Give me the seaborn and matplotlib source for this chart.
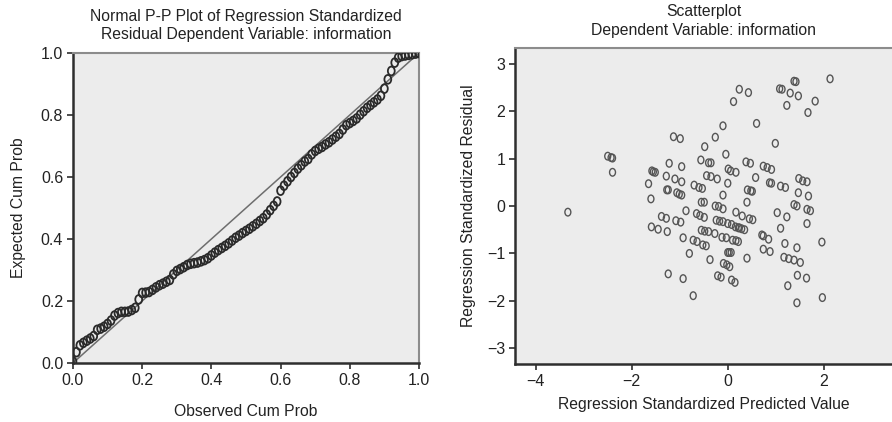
import pandas as pd
import seaborn as sns
import matplotlib.pyplot as plt
from matplotlib.path import Path
from matplotlib.transforms import Affine2D

sns.set_style("white")
plt.rcParams['font.family'] = ['Liberation Sans', 'DejaVu Sans']

# P-P plot: observed vs expected cumulative probability
obs_cum = [0.00, 0.01, 0.02, 0.03, 0.04, 0.05, 0.06, 0.07, 0.08, 0.09,
           0.10, 0.11, 0.12, 0.13, 0.14, 0.15, 0.16, 0.17, 0.18, 0.19,
           0.20, 0.21, 0.22, 0.23, 0.24, 0.25, 0.26, 0.27, 0.28, 0.29,
           0.30, 0.31, 0.32, 0.33, 0.34, 0.35, 0.36, 0.37, 0.38, 0.39,
           0.40, 0.41, 0.42, 0.43, 0.44, 0.45, 0.46, 0.47, 0.48, 0.49,
           0.50, 0.51, 0.52, 0.53, 0.54, 0.55, 0.56, 0.57, 0.58, 0.59,
           0.60, 0.61, 0.62, 0.63, 0.64, 0.65, 0.66, 0.67, 0.68, 0.69,
           0.70, 0.71, 0.72, 0.73, 0.74, 0.75, 0.76, 0.77, 0.78, 0.79,
           0.80, 0.81, 0.82, 0.83, 0.84, 0.85, 0.86, 0.87, 0.88, 0.89,
           0.90, 0.91, 0.92, 0.93, 0.94, 0.95, 0.96, 0.97, 0.98, 0.99, 1.00]
exp_cum = [0.005, 0.035, 0.057, 0.065, 0.072, 0.079, 0.087, 0.107, 0.111, 0.117,
           0.126, 0.137, 0.153, 0.161, 0.165, 0.165, 0.166, 0.171, 0.178, 0.205,
           0.226, 0.227, 0.229, 0.236, 0.244, 0.251, 0.256, 0.262, 0.268, 0.286,
           0.297, 0.303, 0.309, 0.316, 0.320, 0.322, 0.324, 0.328, 0.332, 0.338,
           0.347, 0.356, 0.364, 0.371, 0.378, 0.386, 0.395, 0.404, 0.411, 0.419,
           0.426, 0.433, 0.441, 0.449, 0.458, 0.467, 0.479, 0.493, 0.507, 0.521,
           0.556, 0.572, 0.586, 0.600, 0.613, 0.627, 0.638, 0.650, 0.658, 0.673,
           0.684, 0.691, 0.697, 0.705, 0.712, 0.721, 0.730, 0.739, 0.753, 0.767,
           0.774, 0.781, 0.789, 0.801, 0.812, 0.823, 0.832, 0.841, 0.850, 0.862,
           0.885, 0.915, 0.942, 0.969, 0.985, 0.990, 0.992, 0.994, 0.996, 0.998, 1.000]

# residual scatterplot
pred = [-3.33, -2.50, -2.43, -2.40, -2.40,
        -1.65, -1.60, -1.58, -1.55, -1.51, -1.59, -1.45,
        -1.38, -1.28, -1.28, -1.27, -1.24, -1.26, -1.24, -1.22,
        -1.13, -0.99, -1.10, -1.08, -0.98, -1.06, -1.01, -0.96,
        -0.96, -0.96, -0.93, -0.93, -0.87, -0.80, -0.72, -0.72, -0.64,
        -0.70, -0.60, -0.53, -0.65, -0.58, -0.49, -0.56, -0.55, -0.49,
        -0.55, -0.48, -0.40, -0.52, -0.45, -0.48, -0.44, -0.35, -0.22,
        -0.40, -0.35, -0.37, -0.27, -0.26, -0.26, -0.19, -0.10,
        -0.24, -0.17, -0.10, 0.00, 0.08, 0.16, 0.22, 0.24, 0.29, 0.35,
        -0.21, -0.14, -0.12, -0.03, -0.10, -0.09, -0.02, 0.04,
        -0.10, -0.04, 0.00, 0.01, 0.06, 0.17, 0.00, 0.03, 0.07,
        0.08, 0.15, 0.12, 0.10, 0.17, 0.22,
        0.17, 0.30, 0.45, 0.52, 0.24, 0.43, 0.38, 0.47,
        0.40, 0.40, 0.41, 0.48, 0.51, 0.58, 0.60,
        0.71, 0.74, 0.74, 0.82, 0.91, 0.74, 0.88, 0.85,
        0.87, 0.91, 0.99, 1.03, 1.10, 1.20, 1.10, 1.08, 1.13,
        1.17, 1.27, 1.38, 1.51, 1.19, 1.23, 1.23, 1.25, 1.30,
        1.38, 1.42, 1.38, 1.44, 1.44, 1.44, 1.45, 1.47, 1.47,
        1.48, 1.56, 1.65, 1.65, 1.64, 1.65, 1.72, 1.67, 1.68,
        1.82, 1.96, 1.97, 2.13]
resid = [-0.13, 1.05, 1.02, 1.01, 0.71,
         0.47, 0.15, 0.74, 0.72, 0.71, -0.44, -0.49,
         -0.22, -0.26, 0.63, 0.34, 0.34, -0.54, -1.43, 0.90,
         1.46, 1.42, 0.57, -0.31, -0.34, 0.28, 0.25, 0.23,
         0.83, 0.51, -0.67, -1.53, -0.10, -1.00, -1.89, -0.72, -0.75,
         0.44, 0.39, 0.37, -0.16, -0.20, -0.24, 0.97, 0.08, 0.08,
         -0.51, -0.53, -0.54, -0.82, -0.84, 1.25, 0.64, 0.62, 0.57,
         0.91, 0.91, -1.13, -0.58, 1.45, 0.00, -0.01, -0.06,
         -0.30, -0.32, -0.33, -0.37, -0.39, -0.44, -0.46, -0.46, -0.48, -0.50,
         -1.47, -1.50, -0.66, -0.67, 0.23, -1.21, -1.24, -1.28,
         1.69, 1.09, 0.48, 0.78, 0.74, 0.71, -0.98, -0.98, -0.98,
         -1.56, -1.61, 2.20, -0.72, -0.73, -0.75,
         -0.13, -0.21, -0.27, -0.29, 2.46, 2.39, 0.93, 0.90,
         0.08, -1.10, 0.34, 0.32, 0.31, 0.60, 1.74,
         -0.61, -0.63, 0.84, 0.81, 0.77, -0.91, -0.96, -0.70,
         0.49, 0.48, 1.32, -0.14, 0.42, 0.39, -0.47, 2.47, 2.46,
         -1.08, -1.11, -1.14, -1.19, -0.79, -0.23, 2.12, -1.68, 2.38,
         2.63, 2.62, 0.03, 0.00, -2.04, -0.88, -1.46, 2.32, 0.28,
         0.58, 0.53, 0.51, -0.37, -1.52, -0.07, -0.10, 1.97, 0.21,
         2.21, -0.76, -1.93, 2.68]

pp = pd.DataFrame({'obs': obs_cum, 'exp': exp_cum})
sc = pd.DataFrame({'pred': pred, 'resid': resid})

# SPSS style "o" markers are a bit taller than wide
oval = Path.unit_circle().transformed(Affine2D().scale(0.78, 1.0))


def style_axes(ax):
    ax.set_facecolor('#ececec')
    for side in ['left', 'bottom']:
        ax.spines[side].set_color('#2e2e2e')
        ax.spines[side].set_linewidth(1.8)
    for side in ['top', 'right']:
        ax.spines[side].set_color('#8c8c8c')
        ax.spines[side].set_linewidth(1.5)
    ax.tick_params(direction='out', length=4, width=1.2, color='#2e2e2e',
                   labelsize=11.5, labelcolor='#222222', pad=3,
                   left=True, bottom=True)


fig = plt.figure(figsize=(8.92, 4.22), dpi=100)
ax1 = fig.add_axes([0.0818, 0.1398, 0.3879, 0.7346])
ax2 = fig.add_axes([0.5774, 0.1374, 0.4226, 0.7489])

# left: normal P-P plot
ax1.plot([0, 1], [0, 1], color='#6e6e6e', linewidth=1.1, zorder=2)
sns.scatterplot(data=pp, x='obs', y='exp', ax=ax1, marker=oval, s=40,
                facecolor='none', edgecolor='#2a2a2a', linewidth=1.3, zorder=3)
ax1.set_xlim(0, 1)
ax1.set_ylim(0, 1)
ax1.set_xticks([0.0, 0.2, 0.4, 0.6, 0.8, 1.0])
ax1.set_yticks([0.0, 0.2, 0.4, 0.6, 0.8, 1.0])
ax1.set_xticklabels(['0.0', '0.2', '0.4', '0.6', '0.8', '1.0'])
ax1.set_yticklabels(['0.0', '0.2', '0.4', '0.6', '0.8', '1.0'])
style_axes(ax1)
ax1.set_title("Normal P-P Plot of Regression Standardized\nResidual Dependent Variable: information",
              fontsize=11.3, color='#222222', pad=10, linespacing=1.3)
ax1.set_xlabel('Observed Cum Prob', fontsize=11.3, color='#222222', labelpad=12)
ax1.set_ylabel('Expected Cum Prob', fontsize=11.3, color='#222222', labelpad=11)

# right: scatterplot
sns.scatterplot(data=sc, x='pred', y='resid', ax=ax2, marker=oval, s=30,
                facecolor='none', edgecolor='#555555', linewidth=1.0)
ax2.set_xlim(-4.43, 3.42)
ax2.set_ylim(-3.33, 3.33)
ax2.set_xticks([-4, -2, 0, 2])
ax2.set_yticks([-3, -2, -1, 0, 1, 2, 3])
style_axes(ax2)
ax2.spines['right'].set_visible(False)
ax2.set_title("Scatterplot\nDependent Variable: information",
              fontsize=11.3, color='#222222', pad=9, linespacing=1.35)
ax2.set_xlabel('Regression Standardized Predicted Value', fontsize=11.3,
               color='#222222', labelpad=6)
ax2.set_ylabel('Regression Standardized Residual', fontsize=11.3,
               color='#222222', labelpad=8)

fig.savefig('out.png', dpi=100)
